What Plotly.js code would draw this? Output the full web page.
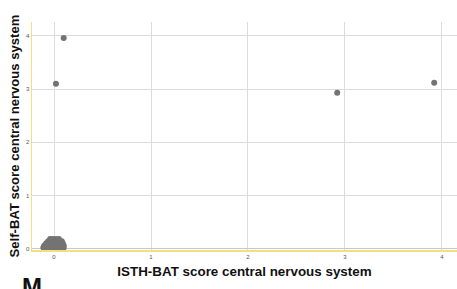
<!DOCTYPE html>
<html><head><meta charset="utf-8">
<script src="https://cdn.plot.ly/plotly-3.0.1.min.js"></script>
<style>html,body{margin:0;padding:0;background:#fff;}#c{width:457px;height:289px;}</style>
</head><body><div id="c"></div>
<script>
// ISTH-BAT score (x) vs Self-BAT score (y), central nervous system
const isthX = [
  -0.11,-0.08,-0.05,-0.02,0.01,0.04,0.07,0.10,
  -0.10,-0.07,-0.04,-0.01,0.02,0.05,0.08,0.10,
  -0.08,-0.05,-0.02,0.01,0.04,0.07,0.09,
  -0.06,-0.03,0.00,0.03,0.06,0.08,
  -0.04,-0.01,0.02,0.05,
  0.10, 0.02, 2.92, 3.92
];
const selfY = [
  0.02,0.02,0.02,0.02,0.02,0.02,0.02,0.02,
  0.06,0.06,0.06,0.06,0.06,0.06,0.06,0.06,
  0.10,0.10,0.10,0.10,0.10,0.10,0.10,
  0.14,0.14,0.14,0.14,0.14,0.14,
  0.18,0.18,0.18,0.18,
  3.96, 3.10, 2.93, 3.12
];
const tickVals = [0,1,2,3,4];
const tickText = ['0','1','2','3','4'];
const xTitle = 'ISTH-BAT score central nervous system';
const yTitle = 'Self-BAT score central nervous system';
const panelLabel = 'M';

const trace = {
  x: isthX, y: selfY, type: 'scatter', mode: 'markers',
  marker: {color: '#737373', size: 6, line: {width: 0}},
  hoverinfo: 'skip', showlegend: false
};
const xTitleFont = {size: 13.4, color: '#111', family: 'Liberation Sans, Arial, sans-serif', weight: 'bold'};
const yTitleFont = {size: 13.1, color: '#111', family: 'Liberation Sans, Arial, sans-serif', weight: 'bold'};
const layout = {
  width: 457, height: 289,
  margin: {l: 32, r: 0, t: 22, b: 39},
  paper_bgcolor: '#ffffff', plot_bgcolor: '#ffffff',
  font: {family: 'Liberation Sans, Arial, sans-serif'},
  xaxis: {
    range: [-0.227, 4.155], tickvals: tickVals, ticktext: tickText,
    tickfont: {size: 6, color: '#555'}, ticks: '', ticklen: 0,
    showgrid: true, gridcolor: '#dcdcdc', gridwidth: 1, zeroline: false,
    showline: true, linecolor: '#f3df7e', linewidth: 1.5,
    title: {text: xTitle, font: xTitleFont, standoff: 8}
  },
  yaxis: {
    range: [-0.025, 4.26], tickvals: tickVals, ticktext: tickText,
    tickfont: {size: 6, color: '#555'}, ticks: '', ticklen: 0,
    showgrid: true, gridcolor: '#dcdcdc', gridwidth: 1,
    zeroline: true, zerolinecolor: '#c8c8c8', zerolinewidth: 1.2,
    showline: true, linecolor: '#f3df7e', linewidth: 1.5,
    title: {text: yTitle, font: yTitleFont, standoff: 3}
  },
  annotations: [{
    text: panelLabel, xref: 'paper', yref: 'paper', x: -0.028, y: -0.092,
    xanchor: 'left', yanchor: 'top', showarrow: false,
    font: {size: 24, color: '#111', family: 'Liberation Sans, Arial, sans-serif', weight: 'bold'}
  }]
};
Plotly.newPlot('c', [trace], layout, {displayModeBar: false, staticPlot: true});
</script></body></html>
